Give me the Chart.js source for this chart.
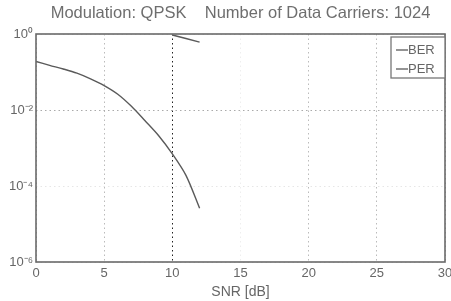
<!DOCTYPE html>
<html>
<head>
<meta charset="utf-8">
<script src="https://cdn.jsdelivr.net/npm/chart.js@4/dist/chart.umd.min.js"></script>
<style>
  html, body { margin: 0; padding: 0; background: #fff; }
</style>
</head>
<body>
<canvas id="chart" width="451" height="301"></canvas>
<script>
const titleText = "Modulation: QPSK    Number of Data Carriers: 1024"
const xLabel = "SNR [dB]"

const snrBer = [0, 1, 2, 3, 4, 5, 6, 7, 8, 9, 10, 11, 12]
const ber = [0.19, 0.15, 0.12, 0.093, 0.066, 0.044, 0.026, 0.0125, 0.0052, 0.0021, 0.0007, 0.00019, 0.000026]

const snrPer = [10, 11, 12]
const per = [0.94, 0.76, 0.61]

const seriesNames = ["BER", "PER"]
const xTicks = [0, 5, 10, 15, 20, 25, 30]
const yTicks = [1e-6, 1e-4, 1e-2, 1]
const yTickLabels = { "-6": "10⁻⁶", "-4": "10⁻⁴", "-2": "10⁻²", "0": "10⁰" }

const lineColor = "#5a5a5a"
const textColor = "#666"
const fontFamily = "'Liberation Sans', Arial, sans-serif"

// box around the axes plus the legend in the upper right corner
const framePlugin = {
  id: "frame",
  afterDatasetsDraw(chart) {
    const { ctx, chartArea: a } = chart
    ctx.save()
    ctx.strokeStyle = "#6a6a6a"
    ctx.lineWidth = 1.6
    ctx.strokeRect(a.left, a.top, a.right - a.left, a.bottom - a.top)

    const bx = a.right - 54, by = a.top + 3, bw = 54, bh = 41
    ctx.fillStyle = "#fff"
    ctx.fillRect(bx, by, bw, bh)
    ctx.strokeStyle = "#777"
    ctx.lineWidth = 1.3
    ctx.strokeRect(bx, by, bw, bh)

    ctx.font = "13px " + fontFamily
    ctx.textBaseline = "middle"
    chart.data.datasets.forEach((ds, i) => {
      const y = by + 13 + i * 19
      ctx.strokeStyle = ds.borderColor
      ctx.lineWidth = 1.3
      ctx.beginPath()
      ctx.moveTo(bx + 5, y)
      ctx.lineTo(bx + 17, y)
      ctx.stroke()
      ctx.fillStyle = textColor
      ctx.fillText(ds.label, bx + 17, y)
    })
    ctx.restore()
  }
}

const gridColorX = (c) => {
  const v = c.tick && c.tick.value
  if (v === 10) return "#222"
  if (v === 15) return "#eee"
  return "#bbb"
}
const gridColorY = (c) => {
  const v = c.tick && c.tick.value
  if (v === 1e-2) return "#aaa"
  return "#e6e6e6"
}

new Chart(document.getElementById("chart"), {
  type: "line",
  data: {
    datasets: [
      {
        label: seriesNames[0],
        data: snrBer.map((x, i) => ({ x: x, y: ber[i] })),
        borderColor: lineColor,
        borderWidth: 1.4,
        pointRadius: 0,
        tension: 0.3,
        fill: false
      },
      {
        label: seriesNames[1],
        data: snrPer.map((x, i) => ({ x: x, y: per[i] })),
        borderColor: lineColor,
        borderWidth: 1.4,
        pointRadius: 0,
        fill: false
      }
    ]
  },
  options: {
    responsive: false,
    animation: false,
    devicePixelRatio: 1,
    layout: { padding: { left: 0, right: 6, top: 0, bottom: 0 } },
    plugins: {
      legend: { display: false },
      tooltip: { enabled: false },
      title: {
        display: true,
        text: titleText,
        fullSize: false,
        color: "#6e6e6e",
        font: { family: fontFamily, size: 16.5, weight: "normal" },
        padding: { top: 4, bottom: 10.2 }
      }
    },
    scales: {
      x: {
        type: "linear",
        min: 0,
        max: 30,
        afterBuildTicks: (s) => { s.ticks = xTicks.map(v => ({ value: v })) },
        afterFit: (s) => { s.height = 39; s.paddingLeft = 0; s.paddingRight = 0 },
        grid: { color: gridColorX, lineWidth: 1, drawTicks: false },
        border: { display: false, dash: [1.5, 3] },
        ticks: {
          color: textColor,
          padding: 4,
          maxRotation: 0,
          font: { family: fontFamily, size: 13 }
        },
        title: {
          display: true,
          text: xLabel,
          color: textColor,
          padding: { top: 0, bottom: 0 },
          font: { family: fontFamily, size: 14 }
        }
      },
      y: {
        type: "logarithmic",
        min: 1e-6,
        max: 1,
        afterBuildTicks: (s) => { s.ticks = yTicks.map(v => ({ value: v })) },
        afterFit: (s) => { s.width = 36; s.paddingTop = 0; s.paddingBottom = 0 },
        grid: { color: gridColorY, lineWidth: 1, drawTicks: false },
        border: { display: false, dash: [1.5, 3] },
        ticks: {
          color: textColor,
          padding: 3,
          font: { family: fontFamily, size: 13 },
          callback: (v) => yTickLabels[String(Math.round(Math.log10(v)))] || ""
        }
      }
    }
  },
  plugins: [framePlugin]
})
</script>
</body>
</html>
